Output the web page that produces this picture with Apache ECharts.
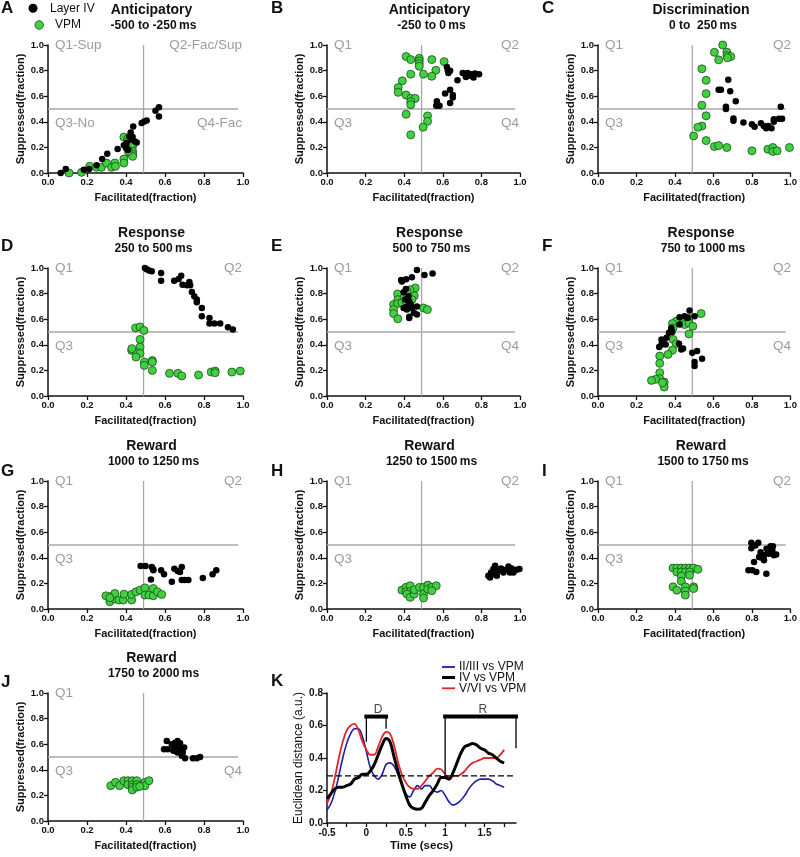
<!DOCTYPE html>
<html><head><meta charset="utf-8">
<script src="https://cdn.jsdelivr.net/npm/echarts@6/dist/echarts.min.js"></script>
<style>html,body{margin:0;padding:0;background:#fff}#c{width:800px;height:857px}</style>
</head><body><div id="c"></div>
<script>
// ---------------- DATA ----------------
const layerIV_A = [[0.065,0.0],[0.091,0.031],[0.184,0.026],[0.211,0.031],[0.249,0.06],[0.278,0.109],[0.304,0.151],[0.357,0.187],[0.389,0.216],[0.40,0.195],[0.417,0.286],[0.424,0.317],[0.434,0.281],[0.437,0.364],[0.446,0.247],[0.455,0.239],[0.48,0.39],[0.494,0.403],[0.506,0.41],[0.551,0.486],[0.569,0.514],[0.569,0.442],[0.403,0.234],[0.429,0.26],[0.41,0.18]];
const vpm_A = [[0.108,0.0],[0.172,0.005],[0.214,0.052],[0.249,0.044],[0.274,0.044],[0.30,0.078],[0.326,0.044],[0.343,0.078],[0.389,0.109],[0.389,0.078],[0.389,0.281],[0.408,0.265],[0.412,0.247],[0.42,0.156],[0.425,0.182],[0.434,0.208],[0.434,0.169],[0.434,0.148],[0.434,0.13],[0.434,0.229],[0.412,0.169],[0.346,0.052]];

const layerIV_B = [[0.621,0.829],[0.626,0.803],[0.629,0.782],[0.638,0.798],[0.676,0.725],[0.703,0.782],[0.716,0.772],[0.728,0.782],[0.738,0.759],[0.75,0.772],[0.759,0.746],[0.767,0.777],[0.788,0.772],[0.72,0.75],[0.612,0.622],[0.638,0.65],[0.652,0.609],[0.652,0.59],[0.638,0.547],[0.569,0.56],[0.572,0.534],[0.583,0.526],[0.566,0.526]];
const vpm_B = [[0.41,0.91],[0.434,0.886],[0.478,0.896],[0.478,0.876],[0.478,0.855],[0.478,0.834],[0.543,0.886],[0.607,0.87],[0.564,0.803],[0.5,0.772],[0.434,0.772],[0.543,0.756],[0.39,0.72],[0.369,0.668],[0.369,0.63],[0.41,0.609],[0.434,0.583],[0.457,0.583],[0.434,0.557],[0.434,0.534],[0.41,0.459],[0.521,0.446],[0.521,0.404],[0.498,0.358],[0.434,0.298]];

const layerIV_C = [[0.677,0.729],[0.627,0.651],[0.639,0.651],[0.687,0.638],[0.716,0.56],[0.665,0.517],[0.665,0.50],[0.704,0.426],[0.704,0.408],[0.756,0.395],[0.80,0.38],[0.814,0.362],[0.847,0.388],[0.862,0.367],[0.874,0.349],[0.885,0.367],[0.902,0.349],[0.914,0.419],[0.914,0.40],[0.94,0.424],[0.957,0.424],[0.95,0.517]];
const vpm_C = [[0.648,1.0],[0.605,0.943],[0.67,0.943],[0.67,0.917],[0.69,0.91],[0.627,0.884],[0.673,0.90],[0.54,0.814],[0.562,0.724],[0.562,0.62],[0.54,0.53],[0.562,0.447],[0.54,0.367],[0.519,0.357],[0.497,0.29],[0.562,0.253],[0.605,0.207],[0.627,0.214],[0.67,0.199],[0.80,0.173],[0.883,0.186],[0.909,0.199],[0.909,0.168],[0.931,0.173],[0.995,0.199]];

const layerIV_D = [[0.497,1.0],[0.506,0.99],[0.518,0.98],[0.532,0.975],[0.58,0.96],[0.58,0.90],[0.647,0.90],[0.67,0.914],[0.683,0.94],[0.69,0.87],[0.712,0.865],[0.725,0.89],[0.729,0.865],[0.738,0.813],[0.75,0.78],[0.763,0.753],[0.763,0.732],[0.789,0.688],[0.789,0.623],[0.828,0.61],[0.828,0.566],[0.854,0.566],[0.883,0.566],[0.923,0.538],[0.948,0.519]];
const vpm_D = [[0.449,0.532],[0.472,0.54],[0.492,0.512],[0.472,0.442],[0.472,0.382],[0.429,0.356],[0.455,0.338],[0.472,0.333],[0.451,0.304],[0.494,0.265],[0.494,0.239],[0.535,0.278],[0.535,0.265],[0.535,0.20],[0.623,0.177],[0.666,0.177],[0.686,0.157],[0.772,0.164],[0.837,0.187],[0.857,0.195],[0.857,0.182],[0.943,0.187],[0.986,0.195],[0.43,0.37]];

const layerIV_E = [[0.466,0.984],[0.547,0.958],[0.505,0.945],[0.44,0.927],[0.384,0.906],[0.41,0.912],[0.388,0.894],[0.409,0.836],[0.397,0.81],[0.422,0.779],[0.426,0.74],[0.414,0.70],[0.397,0.688],[0.44,0.688],[0.466,0.70],[0.414,0.675],[0.426,0.62],[0.426,0.61],[0.466,0.636],[0.45,0.65],[0.405,0.753],[0.434,0.714]];
const vpm_E = [[0.366,0.797],[0.367,0.753],[0.40,0.77],[0.43,0.797],[0.457,0.844],[0.452,0.784],[0.345,0.714],[0.366,0.722],[0.345,0.675],[0.345,0.644],[0.367,0.603],[0.388,0.727],[0.409,0.74],[0.44,0.753],[0.5,0.688],[0.52,0.675],[0.43,0.83],[0.414,0.82]];

const layerIV_F = [[0.476,0.668],[0.45,0.623],[0.467,0.61],[0.502,0.623],[0.424,0.616],[0.424,0.558],[0.381,0.532],[0.381,0.512],[0.369,0.494],[0.386,0.50],[0.356,0.455],[0.33,0.442],[0.338,0.416],[0.352,0.403],[0.318,0.382],[0.33,0.403],[0.421,0.408],[0.442,0.371],[0.433,0.364],[0.49,0.338],[0.515,0.351],[0.502,0.265],[0.502,0.234],[0.541,0.291]];
const vpm_F = [[0.536,0.644],[0.473,0.61],[0.43,0.592],[0.407,0.584],[0.387,0.566],[0.39,0.532],[0.45,0.558],[0.473,0.571],[0.493,0.545],[0.473,0.485],[0.39,0.442],[0.407,0.408],[0.387,0.358],[0.364,0.325],[0.321,0.312],[0.321,0.255],[0.321,0.182],[0.321,0.135],[0.30,0.13],[0.278,0.122],[0.344,0.109],[0.344,0.07],[0.335,0.104]];

const layerIV_G = [[0.475,0.336],[0.50,0.336],[0.532,0.328],[0.54,0.31],[0.58,0.302],[0.595,0.271],[0.648,0.315],[0.665,0.297],[0.686,0.328],[0.677,0.289],[0.635,0.212],[0.686,0.227],[0.70,0.227],[0.72,0.227],[0.794,0.243],[0.844,0.271],[0.863,0.302],[0.528,0.23],[0.54,0.302]];
const vpm_G = [[0.297,0.103],[0.317,0.057],[0.331,0.103],[0.343,0.078],[0.343,0.121],[0.364,0.07],[0.386,0.07],[0.39,0.116],[0.429,0.07],[0.429,0.114],[0.451,0.134],[0.472,0.147],[0.497,0.165],[0.497,0.109],[0.518,0.109],[0.54,0.103],[0.54,0.16],[0.561,0.134],[0.583,0.114],[0.317,0.088]];

const layerIV_H = [[0.836,0.26],[0.85,0.286],[0.862,0.312],[0.871,0.338],[0.88,0.26],[0.888,0.299],[0.902,0.317],[0.914,0.286],[0.928,0.307],[0.94,0.332],[0.957,0.317],[0.966,0.286],[0.983,0.307],[0.997,0.312],[0.862,0.273],[0.845,0.247],[0.948,0.286]];
const vpm_H = [[0.388,0.148],[0.409,0.169],[0.431,0.182],[0.409,0.135],[0.431,0.135],[0.414,0.117],[0.431,0.091],[0.452,0.117],[0.453,0.151],[0.479,0.169],[0.5,0.169],[0.5,0.117],[0.5,0.086],[0.522,0.187],[0.522,0.156],[0.543,0.169],[0.566,0.182],[0.543,0.143]];

const layerIV_I = [[0.797,0.517],[0.833,0.517],[0.797,0.475],[0.818,0.496],[0.837,0.406],[0.811,0.367],[0.782,0.302],[0.802,0.302],[0.823,0.289],[0.875,0.276],[0.845,0.444],[0.863,0.419],[0.876,0.47],[0.888,0.432],[0.897,0.491],[0.909,0.491],[0.906,0.457],[0.914,0.419],[0.926,0.426],[0.863,0.38],[0.85,0.40],[0.885,0.45]];
const vpm_I = [[0.39,0.32],[0.41,0.32],[0.433,0.32],[0.454,0.32],[0.476,0.32],[0.497,0.32],[0.519,0.31],[0.41,0.289],[0.433,0.289],[0.454,0.289],[0.476,0.289],[0.433,0.256],[0.476,0.264],[0.433,0.217],[0.39,0.173],[0.41,0.147],[0.454,0.173],[0.454,0.14],[0.454,0.109],[0.497,0.173],[0.497,0.16]];

const layerIV_J = [[0.609,0.625],[0.595,0.56],[0.614,0.56],[0.635,0.60],[0.652,0.612],[0.664,0.625],[0.677,0.607],[0.669,0.589],[0.643,0.589],[0.657,0.56],[0.677,0.548],[0.698,0.574],[0.691,0.535],[0.703,0.49],[0.686,0.509],[0.743,0.49],[0.763,0.49],[0.78,0.50],[0.643,0.548],[0.664,0.535]];
const vpm_J = [[0.322,0.276],[0.346,0.302],[0.367,0.276],[0.389,0.315],[0.41,0.315],[0.41,0.284],[0.432,0.315],[0.432,0.284],[0.432,0.264],[0.432,0.243],[0.455,0.315],[0.455,0.284],[0.455,0.264],[0.497,0.302],[0.497,0.276],[0.518,0.315],[0.47,0.27]];

const panelLetters = ['A','B','C','D','E','F','G','H','I','J'];
const panelTitles = ['Anticipatory','Anticipatory','Discrimination','Response','Response','Response','Reward','Reward','Reward','Reward'];
const panelSubtitles = ['-500 to -250\u2009ms','-250 to 0\u2009ms','0 to  250\u2009ms','250 to 500\u2009ms','500 to 750\u2009ms','750 to 1000\u2009ms','1000 to 1250\u2009ms','1250 to 1500\u2009ms','1500 to 1750\u2009ms','1750 to 2000\u2009ms'];
const quadLabels = [
  ['Q1-Sup','Q2-Fac/Sup','Q3-No','Q4-Fac'],
  ['Q1','Q2','Q3','Q4'], ['Q1','Q2','Q3',''],
  ['Q1','Q2','Q3',''], ['Q1','Q2','Q3','Q4'], ['Q1','Q2','Q3','Q4'],
  ['Q1','Q2','Q3',''], ['Q1','Q2','Q3',''], ['Q1','Q2','Q3',''],
  ['Q1','','Q3','Q4']
];
const quadX = 0.49, quadY = 0.5, quadLineEnd = 0.975;

// Panel K: Euclidean distance over time
const kTime = [-0.5,-0.45,-0.4,-0.35,-0.3,-0.25,-0.2,-0.15,-0.1,-0.05,0,0.05,0.1,0.15,0.2,0.25,0.3,0.35,0.4,0.45,0.5,0.55,0.6,0.65,0.7,0.75,0.8,0.85,0.9,0.95,1.0,1.05,1.1,1.15,1.2,1.25,1.3,1.35,1.4,1.45,1.5,1.55,1.6,1.65,1.7,1.75];
const kII_III = [0.08,0.12,0.19,0.29,0.40,0.49,0.55,0.58,0.58,0.53,0.44,0.34,0.29,0.27,0.30,0.36,0.37,0.35,0.30,0.24,0.18,0.16,0.20,0.23,0.21,0.23,0.23,0.20,0.19,0.20,0.17,0.13,0.11,0.12,0.14,0.17,0.21,0.24,0.26,0.27,0.27,0.27,0.26,0.24,0.23,0.22];
const kIV = [0.15,0.18,0.21,0.22,0.22,0.23,0.24,0.27,0.28,0.30,0.30,0.32,0.36,0.42,0.48,0.52,0.50,0.41,0.32,0.24,0.17,0.11,0.09,0.085,0.09,0.13,0.17,0.20,0.24,0.28,0.28,0.27,0.31,0.37,0.43,0.47,0.48,0.49,0.48,0.46,0.45,0.43,0.42,0.40,0.38,0.37];
const kV_VI = [0.12,0.18,0.28,0.40,0.50,0.57,0.60,0.61,0.57,0.50,0.45,0.42,0.42,0.47,0.53,0.56,0.55,0.48,0.38,0.30,0.25,0.22,0.21,0.21,0.23,0.26,0.29,0.31,0.335,0.33,0.30,0.28,0.29,0.29,0.30,0.32,0.35,0.37,0.38,0.39,0.40,0.40,0.40,0.40,0.42,0.45];
const kThreshold = 0.29, kThresholdEnd = 1.88;
const kLabelTicks = [-0.5, 0, 0.5, 1, 1.5];
const kMinorTicks = [-0.5,-0.25,0,0.25,0.5,0.75,1,1.25,1.5,1.75];
const kBracketD = {from:0, to:0.25, level:0.655, leftDrop:0.50, rightDrop:0.58, label:'D', labelX:0.15};
const kBracketR = {from:1.0, to:1.9, level:0.655, leftDrop:0.30, rightDrop:0.46, label:'R', labelX:1.48};

// ---------------- LAYOUT ----------------
const FF = 'Liberation Sans, Arial, Helvetica, sans-serif';
const colLeft = [48, 327, 598], colWidth = [195, 193, 194];
const rowTop = [45, 268, 481, 693], gridH = 128;
const yNameGap = [20, 21, 22];
const letterX = [1, 271, 542];
const letterY = [8, 246, 471.5, 682];
const GREEN = '#3fd13f', GREEN_EDGE = '#1e4a1e', QGRAY = '#9c9c9c';

const grids = [], xAxes = [], yAxes = [], series = [], graphics = [];
const layerData = [layerIV_A,layerIV_B,layerIV_C,layerIV_D,layerIV_E,layerIV_F,layerIV_G,layerIV_H,layerIV_I,layerIV_J];
const vpmData = [vpm_A,vpm_B,vpm_C,vpm_D,vpm_E,vpm_F,vpm_G,vpm_H,vpm_I,vpm_J];

function axisCommon() {
  return {
    axisLine: {onZero: false, lineStyle: {color: '#111', width: 1.5}},
    axisTick: {length: 4, lineStyle: {color: '#111', width: 1.3}},
    splitLine: {show: false},
    axisLabel: {color: '#111', fontSize: 9.5, fontWeight: 'bold', fontFamily: FF, margin: 4}
  };
}
function txt(text, x, y, size, weight, color, align, extra) {
  graphics.push(Object.assign({type: 'text', silent: true, style: {text, x, y, font: `${weight} ${size}px ${FF}`, fill: color, align: align, verticalAlign: 'middle'}}, extra || {}));
}

for (let i = 0; i < 10; i++) {
  const c = i === 9 ? 0 : i % 3, r = Math.floor(i / 3);
  const L = colLeft[c], T = rowTop[r], W = colWidth[c];
  grids.push({left: L, top: T, width: W, height: gridH});
  xAxes.push(Object.assign(axisCommon(), {
    gridIndex: i, type: 'value', min: 0, max: 1, interval: 0.2,
    name: 'Facilitated(fraction)', nameLocation: 'middle', nameGap: 19,
    nameTextStyle: {fontSize: 11, fontWeight: 'bold', color: '#111', fontFamily: FF}
  }));
  xAxes[i].axisLabel.formatter = v => v.toFixed(1);
  yAxes.push(Object.assign(axisCommon(), {
    gridIndex: i, type: 'value', min: 0, max: 1, interval: 0.2,
    name: 'Suppressed(fraction)', nameLocation: 'middle', nameGap: yNameGap[c],
    nameTextStyle: {fontSize: 11, fontWeight: 'bold', color: '#111', fontFamily: FF}
  }));
  yAxes[i].axisLabel.formatter = v => v.toFixed(1);
  // quadrant lines
  series.push({type: 'line', xAxisIndex: i, yAxisIndex: i, data: [[quadX, 0], [quadX, 1]], symbol: 'none', silent: true, z: 1,
    lineStyle: {color: '#a8a8a8', width: 1.3}});
  series.push({type: 'line', xAxisIndex: i, yAxisIndex: i, data: [[0, quadY], [quadLineEnd, quadY]], symbol: 'none', silent: true, z: 1,
    lineStyle: {color: '#a8a8a8', width: 1.3}});
  series.push({name: 'VPM', type: 'scatter', xAxisIndex: i, yAxisIndex: i, data: vpmData[i], symbolSize: 8, z: 3,
    itemStyle: {color: GREEN, borderColor: GREEN_EDGE, borderWidth: 0.8, opacity: 1}});
  series.push({name: 'Layer IV', type: 'scatter', xAxisIndex: i, yAxisIndex: i, data: layerData[i], symbolSize: 6.5, z: 4,
    itemStyle: {color: '#000', opacity: 1}});
  // quadrant labels
  const q = quadLabels[i];
  if (q[0]) txt(q[0], L + 7, T, 13.5, 'normal', QGRAY, 'left');
  if (q[1]) txt(q[1], L + W - 1, T, 13.5, 'normal', QGRAY, 'right');
  if (q[2]) txt(q[2], L + 7, T + 78, 13.5, 'normal', QGRAY, 'left');
  if (q[3]) txt(q[3], L + W - 1, T + 78, 13.5, 'normal', QGRAY, 'right');
  // titles
  const cx = L + W / 2;
  txt(panelTitles[i], cx + 6, T - 35, 14, 'bold', '#111', 'center');
  txt(panelSubtitles[i], cx + 8, T - 19.5, 12, 'bold', '#111', 'center');
  txt(panelLetters[i], letterX[c], letterY[r], 17, 'bold', '#111', 'left');
}

// ---------------- PANEL K ----------------
const k = 10;
const kL = 327, kT = 693, kW = 189, kH = 130;
grids.push({left: kL, top: kT, width: kW, height: kH});
const kx = Object.assign(axisCommon(), {gridIndex: k, type: 'value', min: -0.5, max: 1.9,
  name: 'Time (secs)', nameLocation: 'middle', nameGap: 17,
  nameTextStyle: {fontSize: 11.5, fontWeight: 'bold', color: '#111', fontFamily: FF}});
kx.axisLabel = {color: '#111', fontSize: 10, fontWeight: 'bold', fontFamily: FF, margin: 5, customValues: kLabelTicks,
  formatter: v => (v === 0 || v === 1) ? String(v) : v.toFixed(1)};
kx.axisTick = {length: 4, lineStyle: {color: '#111', width: 1.3}, customValues: kMinorTicks};
xAxes.push(kx);
const ky = Object.assign(axisCommon(), {gridIndex: k, type: 'value', min: 0, max: 0.8, interval: 0.2,
  name: 'Euclidean distance (a.u.)', nameLocation: 'middle', nameGap: 22,
  nameTextStyle: {fontSize: 12, fontWeight: 'normal', color: '#111', fontFamily: FF}});
ky.axisLabel = {color: '#111', fontSize: 10, fontWeight: 'bold', fontFamily: FF, margin: 4, formatter: v => v.toFixed(1)};
yAxes.push(ky);

function kSeries(name, vals, color, width, z) {
  series.push({name, type: 'line', xAxisIndex: k, yAxisIndex: k, data: kTime.map((t, j) => [t, vals[j]]),
    symbol: 'none', smooth: 0.35, z, lineStyle: {color, width}});
}
kSeries('II/III vs VPM', kII_III, '#1c1ca6', 1.6, 3);
kSeries('V/VI vs VPM', kV_VI, '#e3242b', 1.8, 4);
kSeries('IV vs VPM', kIV, '#000', 3, 5);
series.push({type: 'line', xAxisIndex: k, yAxisIndex: k, data: [[-0.5, kThreshold], [kThresholdEnd, kThreshold]], symbol: 'none', z: 6,
  lineStyle: {color: '#000', width: 1.3, type: [6, 3]}});
[kBracketD, kBracketR].forEach(b => {
  series.push({type: 'line', xAxisIndex: k, yAxisIndex: k, data: [[b.from, b.level], [b.to, b.level]], symbol: 'none', z: 7,
    lineStyle: {color: '#000', width: 4, cap: 'square'}});
  series.push({type: 'line', xAxisIndex: k, yAxisIndex: k, data: [[b.from, b.leftDrop], [b.from, b.level]], symbol: 'none', z: 7,
    lineStyle: {color: '#000', width: 1.3}});
  series.push({type: 'line', xAxisIndex: k, yAxisIndex: k, data: [[b.to, b.rightDrop], [b.to, b.level]], symbol: 'none', z: 7,
    lineStyle: {color: '#000', width: 1.3}});
  series.push({type: 'scatter', xAxisIndex: k, yAxisIndex: k, data: [[b.labelX, b.level + 0.045]], symbolSize: 0, z: 7,
    label: {show: true, position: 'inside', formatter: b.label, fontSize: 12, color: '#111', fontFamily: FF}});
});
txt('K', letterX[1], 681, 17, 'bold', '#111', 'left');

// K legend
const kLeg = [['II/III vs VPM', '#1c1ca6', 1.8, 667], ['IV vs VPM', '#000', 3, 677.5], ['V/VI vs VPM', '#e3242b', 1.8, 688.3]];
kLeg.forEach(([t, col, w, y]) => {
  graphics.push({type: 'line', silent: true, shape: {x1: 442, y1: y, x2: 455, y2: y}, style: {stroke: col, lineWidth: w}});
  txt(t, 459, y, 12, 'normal', '#111', 'left');
});

// main legend
graphics.push({type: 'circle', silent: true, shape: {cx: 33, cy: 8.3, r: 4.5}, style: {fill: '#000'}});
txt('Layer IV', 50, 8.3, 12, 'normal', '#111', 'left');
graphics.push({type: 'circle', silent: true, shape: {cx: 39.2, cy: 25, r: 4.3}, style: {fill: GREEN, stroke: GREEN_EDGE, lineWidth: 0.8}});
txt('VPM', 55, 25, 12, 'normal', '#111', 'left');

const chart = echarts.init(document.getElementById('c'), null, {renderer: 'canvas'});
chart.setOption({
  animation: false, backgroundColor: '#fff',
  textStyle: {fontFamily: FF},
  grid: grids, xAxis: xAxes, yAxis: yAxes, series, graphic: graphics
});
</script></body></html>
